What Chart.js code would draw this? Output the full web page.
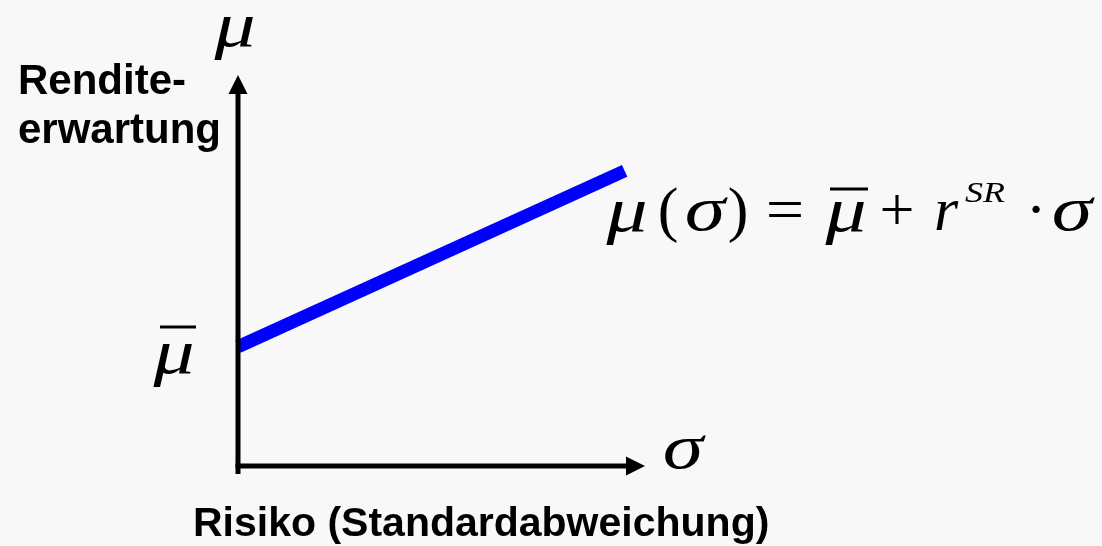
<!DOCTYPE html>
<html>
<head>
<meta charset="utf-8">
<script src="https://cdn.jsdelivr.net/npm/chart.js@4/dist/chart.umd.min.js"></script>
<style>
  html, body { margin: 0; padding: 0; background: #f8f8f8; }
  #wrap { position: relative; width: 1102px; height: 546px; }
</style>
</head>
<body>
<div id="wrap"><canvas id="chart" width="1102" height="546"></canvas></div>
<script>
// Data
const sigmaValues = [0, 9.5];      // risk (x)
const muValues = [3.05, 7.55];     // expected return (y)
const axisMin = 0;
const axisMax = 10;

// Labels
const yAxisTitle = ['Rendite-', 'erwartung'];
const xAxisTitle = 'Risiko (Standardabweichung)';

const SERIF = '"Liberation Serif", "Times New Roman", serif';
const SANS = '"Liberation Sans", Arial, sans-serif';

// Arrow axes drawn from the scales
const arrowAxes = {
    id: 'arrowAxes',
    afterDatasetsDraw(chart) {
        const { ctx, scales: { x, y } } = chart;
        const x0 = x.getPixelForValue(axisMin);
        const xEnd = x.getPixelForValue(axisMax);
        const y0 = y.getPixelForValue(axisMin);
        const yEnd = y.getPixelForValue(axisMax);
        const head = 19, half = 9.5;

        ctx.save();
        ctx.strokeStyle = '#000';
        ctx.fillStyle = '#000';
        ctx.lineWidth = 5;
        ctx.lineCap = 'butt';

        // vertical
        ctx.beginPath();
        ctx.moveTo(x0, y0 + 8);
        ctx.lineTo(x0, yEnd + head - 2);
        ctx.stroke();
        ctx.beginPath();
        ctx.moveTo(x0, yEnd);
        ctx.lineTo(x0 - half, yEnd + head);
        ctx.lineTo(x0 + half, yEnd + head);
        ctx.closePath();
        ctx.fill();

        // horizontal
        ctx.beginPath();
        ctx.moveTo(x0 - 2.5, y0);
        ctx.lineTo(xEnd - head + 2, y0);
        ctx.stroke();
        ctx.beginPath();
        ctx.moveTo(xEnd, y0);
        ctx.lineTo(xEnd - head, y0 - half);
        ctx.lineTo(xEnd - head, y0 + half);
        ctx.closePath();
        ctx.fill();
        ctx.restore();
    }
};

// Text labels and formula
const labels = {
    id: 'labels',
    afterDraw(chart) {
        const ctx = chart.ctx;
        ctx.save();
        ctx.fillStyle = '#000';
        ctx.textBaseline = 'alphabetic';

        // axis titles
        ctx.textAlign = 'left';
        ctx.font = 'bold 42px ' + SANS;
        ctx.fillText(yAxisTitle[0], 18, 94);
        ctx.fillText(yAxisTitle[1], 18, 143);
        ctx.font = 'bold 41px ' + SANS;
        ctx.fillText(xAxisTitle, 193, 536);

        // text a bit wider, like the Symbol font
        const wide = (txt, x, by, font, sx, align) => {
            ctx.save();
            ctx.translate(x, by);
            ctx.scale(sx, 1);
            ctx.font = font;
            ctx.textAlign = align;
            ctx.fillText(txt, 0, 0);
            ctx.restore();
        };
        const greek = (txt, cx, by) => wide(txt, cx, by, 'italic 64px ' + SERIF, 1.28, 'center');
        const put = (txt, cx, by, font) => {
            ctx.font = font;
            ctx.textAlign = 'center';
            ctx.fillText(txt, cx, by);
        };
        const bar = (x1, x2, yy) => {
            ctx.fillRect(x1, yy - 1.5, x2 - x1, 3);
        };

        // axis symbols
        greek('\u03bc', 235, 46);
        greek('\u03bc', 174, 373);
        bar(160, 196, 327);
        greek('\u03c3', 683, 468);

        // formula
        const upright = '62px ' + SERIF;
        greek('\u03bc', 627, 231);
        put('(', 668, 230, upright);
        greek('\u03c3', 705, 230);
        put(')', 738, 230, upright);
        wide('=', 785, 230, upright, 1.1, 'center');
        greek('\u03bc', 846, 231);
        bar(830, 868, 189);
        put('+', 897, 230, upright);
        put('r', 946, 230, 'italic 62px ' + SERIF);
        wide('SR', 965, 202, 'italic 30px ' + SERIF, 1.2, 'left');
        put('\u00b7', 1036, 230, upright);
        greek('\u03c3', 1072, 230);
        ctx.restore();
    }
};

new Chart(document.getElementById('chart'), {
    type: 'scatter',
    data: {
        datasets: [{
            data: sigmaValues.map((s, i) => ({ x: s, y: muValues[i] })),
            showLine: true,
            borderColor: '#0000ff',
            borderWidth: 13,
            borderCapStyle: 'butt',
            pointRadius: 0,
            clip: false
        }]
    },
    options: {
        responsive: false,
        animation: false,
        layout: { padding: { left: 238, right: 457, top: 75, bottom: 80 } },
        plugins: { legend: { display: false }, tooltip: { enabled: false } },
        scales: {
            x: { type: 'linear', min: axisMin, max: axisMax, display: false },
            y: { type: 'linear', min: axisMin, max: axisMax, display: false }
        }
    },
    plugins: [arrowAxes, labels]
});
</script>
</body>
</html>
